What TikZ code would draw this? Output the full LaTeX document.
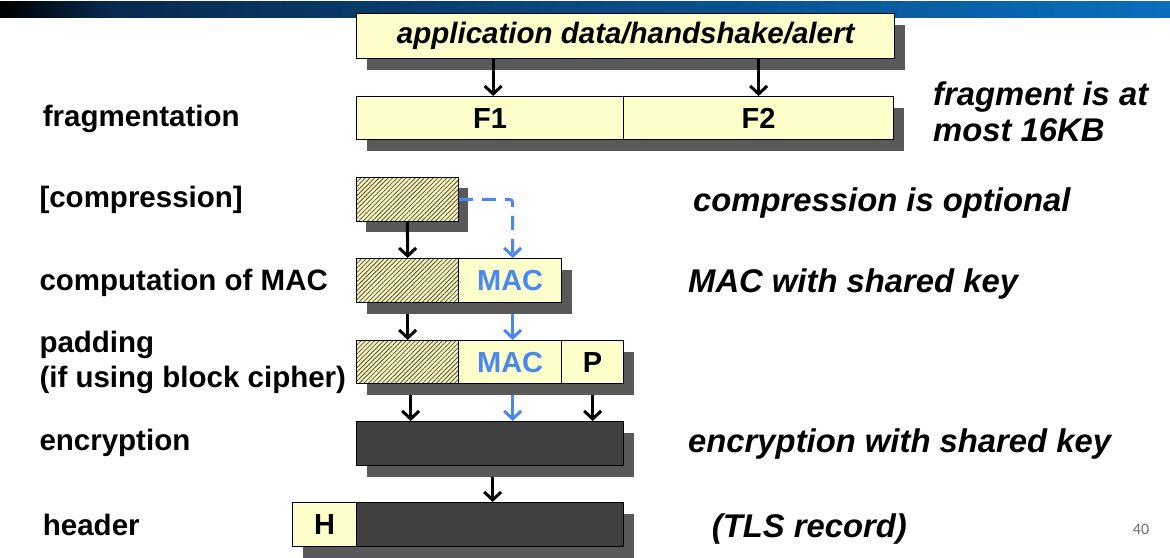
\documentclass[tikz,border=0pt]{standalone}
\usepackage{fontspec}
\setmainfont{Liberation Sans}
\newfontfamily\pagenumfont{Carlito}
\usetikzlibrary{arrows.meta,shadows,patterns.meta,calc}
\pgfdeclarelayer{back}
\pgfdeclarelayer{bg}
\pgfsetlayers{back,bg,main}

\definecolor{cellyellow}{RGB}{255,255,204}
\definecolor{darkcell}{RGB}{64,64,64}
\definecolor{shadowgray}{RGB}{89,89,89}
\definecolor{macblue}{RGB}{72,136,240}
\definecolor{hatchbg}{RGB}{248,244,190}
\definecolor{hatchline}{RGB}{85,85,60}
\definecolor{barnavy}{RGB}{8,42,78}
\definecolor{barblue}{RGB}{10,110,190}
\definecolor{pagegray}{RGB}{110,110,110}

\begin{document}
\begin{tikzpicture}[x=1pt,y=-1pt,
  cell/.style={draw=black, line width=1.3pt, inner sep=0pt, anchor=north west,
    drop shadow={shadow xshift=10pt, shadow yshift=-11pt, fill=shadowgray, opacity=1}},
  ycell/.style={cell, fill=cellyellow, font=\fontsize{29}{30}\selectfont\bfseries},
  dcell/.style={cell, fill=darkcell},
  hcell/.style={cell, preaction={fill=hatchbg},
    pattern={Lines[angle=45,distance=3.2pt,line width=0.8pt]}, pattern color=hatchline},
  arr/.style={line width=3pt, -{Straight Barb[length=8pt,width=17pt]}},
  bluearr/.style={arr, draw=macblue},
  lbl/.style={anchor=base west, inner sep=0pt, align=left,
    font=\fontsize{29.5}{35}\selectfont\bfseries},
  note/.style={anchor=base west, inner sep=0pt, align=left,
    font=\fontsize{32.8}{36.7}\selectfont\bfseries\itshape}
]
\begin{pgfonlayer}{back}
  \fill[white] (0,0) rectangle (1170,557);
  \shade[left color=black, right color=barnavy] (0,1.5) rectangle (110,17);
  \shade[left color=barnavy, right color=barblue] (110,1.5) rectangle (1170,17);
\end{pgfonlayer}
\useasboundingbox (0,0) rectangle (1170,557);

% cells
\node[ycell, minimum width=538pt, minimum height=45pt,
  font=\fontsize{29.5}{30}\selectfont\bfseries\itshape] (top) at (356,13) {application data/handshake/alert};
\node[ycell, minimum width=267pt, minimum height=43pt] (f1) at (356,96) {F1};
\node[ycell, minimum width=270pt, minimum height=43pt] (f2) at (623,96) {F2};

\node[hcell, minimum width=102pt, minimum height=44pt] (cz) at (356,177) {};

\node[hcell, minimum width=102pt, minimum height=44pt] (mh) at (356,258) {};
\node[ycell, minimum width=103pt, minimum height=44pt, text=macblue] (mac) at (458,258) {MAC};

\node[hcell, minimum width=102pt, minimum height=43pt] (ph) at (356,340) {};
\node[ycell, minimum width=103pt, minimum height=43pt, text=macblue] (pmac) at (458,340) {MAC};
\node[ycell, minimum width=62pt, minimum height=43pt] (pp) at (561,340) {P};

\node[dcell, minimum width=267pt, minimum height=44pt] (enc) at (356,421) {};

\node[ycell, minimum width=64pt, minimum height=44pt] (hh) at (292,502) {H};
\node[dcell, minimum width=267pt, minimum height=44pt] (rec) at (356,502) {};

% connectors drawn over shadows
\draw[arr] ([xshift=3pt]f1.north |- top.south) -- ([xshift=3pt]f1.north);
\draw[arr] (f2.north |- top.south) -- (f2.north);
\draw[arr] (cz.south) -- (mh.north);
\draw[bluearr, dash pattern=on 14pt off 9pt, rounded corners=3pt]
  (cz.east) -| ([xshift=2.5pt]mac.north);

% connectors hidden under shadows
\begin{pgfonlayer}{bg}
  \draw[arr] (mh.south) -- (ph.north);
  \draw[bluearr] ([xshift=2.5pt]mac.south) -- ([xshift=2.5pt]pmac.north);
  \draw[arr] ([xshift=3pt]ph.south) -- ([xshift=3pt]ph.south |- enc.north);
  \draw[bluearr] ([xshift=2.5pt]pmac.south) -- ([xshift=2.5pt]pmac.south |- enc.north);
  \draw[arr] (pp.south) -- (pp.south |- enc.north);
  \draw[arr] ([xshift=2.5pt]enc.south) -- ([xshift=2.5pt]rec.north);
\end{pgfonlayer}

% left labels (multi-line nodes: base = last line)
\node[lbl] (lfrag) at (42.7,126.7) {fragmentation};
\node[lbl] (lcomp) at (39.3,207.5) {[compression]};
\node[lbl] (lmac) at (39.3,290) {computation of MAC};
\node[lbl] (lpad) at (39.3,387) {padding\\(if using block cipher)};
\node[lbl] (lenc) at (39.3,450.5) {encryption};
\node[lbl] (lhead) at (42.7,535) {header};

% right notes
\node[note] (nfrag) at (933,141.7) {fragment is at\\most 16KB};
\node[note] (ncomp) at (693,211.7) {compression is optional};
\node[note] (nmac) at (688,292.5) {MAC with shared key};
\node[note] (nenc) at (688,452.8) {encryption with shared key};
\node[note] (nrec) at (711.7,537) {(TLS record)};

% page number
\node[anchor=base, inner sep=0pt, text=pagegray, font=\pagenumfont\fontsize{16}{18}\selectfont] (pg) at (1141,534.3) {40};
\end{tikzpicture}
\end{document}
